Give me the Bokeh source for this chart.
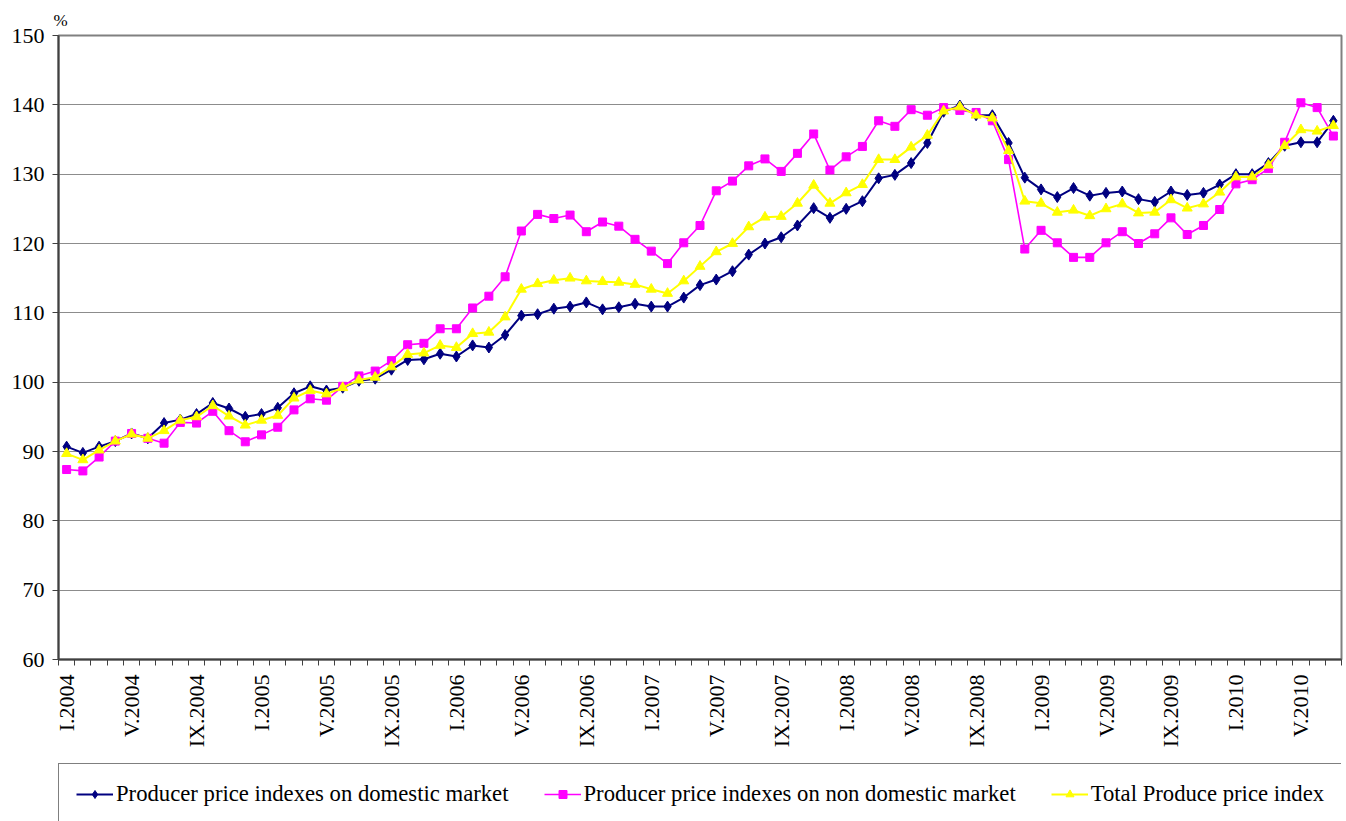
import math
from bokeh.plotting import figure
from bokeh.layouts import column
from bokeh.models import Range1d, FixedTicker, Legend, LegendItem
from bokeh.embed import file_html
from bokeh.resources import INLINE

# ---------------- data ----------------
tick_labels = ["I.2004", "V.2004", "IX.2004", "I.2005", "V.2005", "IX.2005",
               "I.2006", "V.2006", "IX.2006", "I.2007", "V.2007", "IX.2007",
               "I.2008", "V.2008", "IX.2008", "I.2009", "V.2009", "IX.2009",
               "I.2010", "V.2010"]

domestic = [
    90.7, 89.8, 90.7, 91.5, 92.6, 91.9, 94.1, 94.6, 95.4, 97.0, 96.2, 95.0,
    95.4, 96.3, 98.4, 99.4, 98.8, 99.2, 100.2, 100.5, 101.8, 103.2, 103.3, 104.1,
    103.7, 105.3, 105.0, 106.8, 109.6, 109.8, 110.6, 110.9, 111.5, 110.5, 110.8, 111.3,
    110.9, 110.9, 112.2, 114.0, 114.8, 116.0, 118.4, 120.0, 120.9, 122.6, 125.1, 123.7,
    125.0, 126.1, 129.4, 129.9, 131.6, 134.5, 139.0, 139.9, 138.5, 138.5, 134.5, 129.5,
    127.8, 126.7, 128.0, 126.9, 127.3, 127.5, 126.4, 126.0, 127.5, 127.0, 127.3, 128.5,
    130.0, 130.0, 131.6, 134.1, 134.6, 134.6, 137.7,
]

non_domestic = [
    87.4, 87.2, 89.2, 91.5, 92.6, 91.9, 91.2, 94.2, 94.1, 95.8, 93.0, 91.4,
    92.4, 93.5, 96.0, 97.6, 97.4, 99.4, 100.9, 101.6, 103.1, 105.4, 105.6, 107.7,
    107.7, 110.7, 112.4, 115.2, 121.8, 124.2, 123.6, 124.1, 121.7, 123.1, 122.5, 120.6,
    118.9, 117.1, 120.1, 122.6, 127.6, 129.0, 131.2, 132.2, 130.4, 133.0, 135.8, 130.6,
    132.5, 134.0, 137.7, 136.9, 139.3, 138.5, 139.6, 139.2, 138.9, 137.7, 132.1, 119.2,
    121.9, 120.1, 118.0, 118.0, 120.1, 121.7, 120.0, 121.4, 123.7, 121.3, 122.6, 124.9,
    128.6, 129.2, 130.8, 134.6, 140.3, 139.6, 135.5,
]

total = [
    89.7, 88.8, 90.2, 91.5, 92.5, 91.9, 93.0, 94.5, 95.0, 96.6, 95.1, 93.8,
    94.5, 95.2, 97.7, 98.8, 98.3, 99.2, 100.3, 100.7, 102.2, 104.0, 104.2, 105.3,
    105.0, 107.0, 107.2, 109.4, 113.4, 114.2, 114.7, 115.0, 114.6, 114.5, 114.4, 114.1,
    113.4, 112.8, 114.6, 116.7, 118.8, 120.0, 122.4, 123.8, 123.9, 125.8, 128.4, 125.8,
    127.3, 128.5, 132.1, 132.1, 133.9, 135.6, 139.1, 139.7, 138.5, 138.1, 133.4, 126.1,
    125.8, 124.5, 124.8, 124.0, 125.0, 125.7, 124.4, 124.5, 126.3, 125.1, 125.7, 127.4,
    129.6, 129.6, 131.3, 134.1, 136.4, 136.2, 137.0,
]

series_names = ["Producer price indexes on domestic market",
                "Producer price indexes on non domestic market",
                "Total Produce price index"]
series_colors = ["#000080", "#FF00FF", "#FFFF00"]
series_markers = ["diamond", "square", "triangle"]

n = len(domestic)
x = list(range(n))
series_values = [domestic, non_domestic, total]

SERIF = "Liberation Serif"
W = 1346
H_MAIN = 760
H_LEG = 61

# ---------------- main chart ----------------
p = figure(width=W, height=H_MAIN, output_backend="svg", toolbar_location=None,
           x_range=Range1d(-0.5, n - 0.5), y_range=Range1d(60, 150),
           min_border_left=58, min_border_right=5, min_border_top=35,
           min_border_bottom=101)
p.background_fill_color = "white"
p.border_fill_color = "white"
p.outline_line_color = "#808080"
p.outline_line_width = 2

# "%" unit label above the y axis
p.title.text = "%"
p.title.align = "left"
p.title.offset = -5
p.title.standoff = 12
p.title.text_font = SERIF
p.title.text_font_style = "normal"
p.title.text_font_size = "17px"
p.title.text_color = "black"

p.xgrid.visible = False
p.ygrid.grid_line_color = "#8c8c8c"
p.ygrid.grid_line_width = 1

p.yaxis.ticker = FixedTicker(ticks=list(range(60, 151, 10)))
p.yaxis.axis_line_color = "#404040"
p.yaxis.axis_line_width = 2
p.yaxis.major_tick_line_color = "#404040"
p.yaxis.major_tick_out = 6
p.yaxis.major_tick_in = 0
p.yaxis.minor_tick_line_color = None
p.yaxis.major_label_text_font = SERIF
p.yaxis.major_label_text_font_size = "22px"
p.yaxis.major_label_text_color = "black"
p.yaxis.major_label_standoff = 8

label_pos = list(range(0, n, 4))
p.xaxis.ticker = FixedTicker(ticks=label_pos,
                             minor_ticks=[i - 0.5 for i in range(n + 1)])
p.xaxis.major_label_overrides = {pos: lab for pos, lab in zip(label_pos, tick_labels)}
p.xaxis.major_label_orientation = math.pi / 2
p.xaxis.major_label_text_font = SERIF
p.xaxis.major_label_text_font_size = "22px"
p.xaxis.major_label_text_color = "black"
p.xaxis.major_label_standoff = 9
p.xaxis.major_tick_out = 0
p.xaxis.major_tick_in = 0
p.xaxis.minor_tick_out = 6
p.xaxis.minor_tick_in = 0
p.xaxis.minor_tick_line_color = "#404040"
p.xaxis.axis_line_color = "#404040"
p.xaxis.axis_line_width = 2

sizes = [11, 8, 10]
widths = [2, 1.6, 2]
for vals, col, mk, sz, lw in zip(series_values, series_colors, series_markers, sizes, widths):
    p.line(x, vals, line_color=col, line_width=lw)
    p.scatter(x, vals, marker=mk, size=sz, fill_color=col, line_color=col)

# ---------------- legend strip ----------------
# The same series are drawn here, outside of this strip's visible range,
# only so that the legend gets its line + marker glyphs.
q = figure(width=W, height=H_LEG, output_backend="svg", toolbar_location=None,
           x_range=Range1d(0, 1), y_range=Range1d(0, 1),
           x_axis_type=None, y_axis_type=None,
           min_border_left=0, min_border_right=0, min_border_top=0,
           min_border_bottom=0)
q.outline_line_color = None
q.background_fill_color = "white"
q.border_fill_color = "white"

items = []
for name, vals, col, mk, sz, lw in zip(series_names, series_values, series_colors,
                                       series_markers, sizes, widths):
    lr = q.line(x, vals, line_color=col, line_width=lw)
    sr = q.scatter(x, vals, marker=mk, size=sz - 2, fill_color=col, line_color=col)
    items.append(LegendItem(label=name, renderers=[lr, sr]))

legend = Legend(items=items, location=(0, -4), orientation="horizontal")
legend.label_text_font = SERIF
legend.label_text_font_size = "22.7px"
legend.label_text_color = "black"
legend.glyph_width = 37
legend.glyph_height = 20
legend.label_standoff = 3
legend.spacing = 35
legend.padding = 17
legend.margin = 0
legend.border_line_color = "black"
legend.border_line_width = 1
legend.background_fill_color = "white"
legend.background_fill_alpha = 1
q.add_layout(legend)

layout = column(p, q, spacing=0)
open("out.html", "w").write(file_html(layout, INLINE))
